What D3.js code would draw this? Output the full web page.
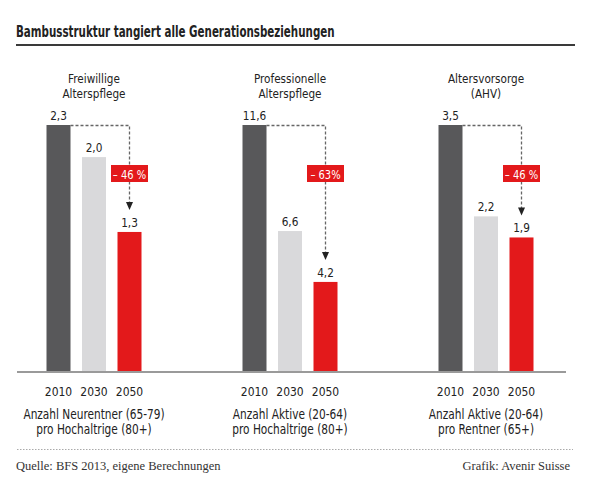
<!DOCTYPE html>
<html>
<head>
<meta charset="utf-8">
<script src="https://cdn.jsdelivr.net/npm/d3@7/dist/d3.min.js"></script>
<style>
  html, body { margin: 0; padding: 0; background: #fff; }
  svg { display: block; }
  .din { font-family: "DejaVu Sans Condensed", "DejaVu Sans", sans-serif; }
  .serif { font-family: "Liberation Serif", "DejaVu Serif", serif; }
</style>
</head>
<body>
<script>
// Daten
var years = ['2010', '2030', '2050'];
var panelTitles = [['Freiwillige', 'Alterspflege'], ['Professionelle', 'Alterspflege'], ['Altersvorsorge', '(AHV)']];
var panelNotes = [['Anzahl Neurentner (65-79)', 'pro Hochaltrige (80+)'],
                  ['Anzahl Aktive (20-64)', 'pro Hochaltrige (80+)'],
                  ['Anzahl Aktive (20-64)', 'pro Rentner (65+)']];
var freiwillige = [2.3, 2.0, 1.3];
var professionelle = [11.6, 6.6, 4.2];
var altersvorsorge = [3.5, 2.2, 1.9];
var changeLabels = ['– 46 %', '– 63%', '– 46 %'];

var title = 'Bambusstruktur tangiert alle Generationsbeziehungen';
var source = 'Quelle: BFS 2013, eigene Berechnungen';
var credit = 'Grafik: Avenir Suisse';

var series = [freiwillige, professionelle, altersvorsorge];
var barColors = ['#58585a', '#d9d9db', '#e3191b'];

var W = 600, H = 488;
var baseY = 371, topY = 125;

var svg = d3.select('body').append('svg').attr('width', W).attr('height', H);

// schmale Schrift: horizontal gestaucht
function at(x, y, sx) {
    return 'translate(' + x + ',' + y + ') scale(' + sx + ',1)';
}

// Titel
svg.append('text').attr('class', 'din')
    .attr('transform', at(16, 37, 0.74))
    .attr('font-size', 15.5).attr('font-weight', 'bold').attr('fill', '#222')
    .text(title);
svg.append('line').attr('x1', 16).attr('x2', 575).attr('y1', 45).attr('y2', 45)
    .attr('stroke', '#3a3a3a').attr('stroke-width', 2);

// Skalen
var px = d3.scalePoint().domain([0, 1, 2]).range([94, 486]);
var bx = d3.scaleBand().domain(years).range([-47.5, 47.5]).paddingInner(0.324).paddingOuter(0);
var bw = bx.bandwidth();

series.forEach(function(vals, p) {
    var cx = px(p);
    var y = d3.scaleLinear().domain([0, d3.max(vals)]).range([baseY, topY]);
    var g = svg.append('g').attr('transform', 'translate(' + cx + ',0)');

    // Panel-Titel
    g.selectAll('text.pt').data(panelTitles[p]).enter().append('text')
        .attr('class', 'din pt')
        .attr('transform', function(d, i) { return at(0, 83 + i * 15, 0.93); })
        .attr('text-anchor', 'middle').attr('font-size', 12.5).attr('fill', '#222')
        .text(function(d) { return d; });

    // Balken
    g.selectAll('rect.bar').data(vals).enter().append('rect')
        .attr('class', 'bar')
        .attr('x', function(d, i) { return bx(years[i]); })
        .attr('y', function(d) { return y(d); })
        .attr('width', bw)
        .attr('height', function(d) { return baseY - y(d); })
        .attr('fill', function(d, i) { return barColors[i]; });

    // Werte
    g.selectAll('text.val').data(vals).enter().append('text')
        .attr('class', 'din val')
        .attr('transform', function(d, i) { return at(bx(years[i]) + bw / 2, y(d) - 5, 0.9); })
        .attr('text-anchor', 'middle').attr('font-size', 13).attr('fill', '#222')
        .text(function(d) { return d3.format('.1f')(d).replace('.', ','); });

    // Pfeil gestrichelt
    var x0 = bx(years[0]) + bw;
    var xr = bx(years[2]) + bw / 2;
    var tip = y(vals[2]) - 22;
    g.append('path')
        .attr('d', 'M' + x0 + ',' + (y(vals[0]) + 0.5) + 'H' + xr + 'V' + (tip - 7))
        .attr('fill', 'none').attr('stroke', '#666').attr('stroke-width', 1.3)
        .attr('stroke-dasharray', '3,2');
    g.append('path')
        .attr('d', 'M' + (xr - 3.5) + ',' + (tip - 8) + 'L' + (xr + 3.5) + ',' + (tip - 8) + 'L' + xr + ',' + tip + 'Z')
        .attr('fill', '#222');

    // Prozent-Box
    g.append('rect').attr('x', xr - 18.5).attr('y', 165).attr('width', 37).attr('height', 17)
        .attr('fill', '#e3191b');
    g.append('text').attr('class', 'din')
        .attr('transform', at(xr, 178.5, 0.85)).attr('text-anchor', 'middle')
        .attr('font-size', 13).attr('fill', '#fff')
        .text(changeLabels[p]);

    // Jahre
    g.selectAll('text.yr').data(years).enter().append('text')
        .attr('class', 'din yr')
        .attr('transform', function(d) { return at(bx(d) + bw / 2, 396, 0.92); })
        .attr('text-anchor', 'middle')
        .attr('font-size', 13).attr('fill', '#222')
        .text(function(d) { return d; });

    // Fussnoten
    g.selectAll('text.note').data(panelNotes[p]).enter().append('text')
        .attr('class', 'din note')
        .attr('transform', function(d, i) { return at(0, 419 + i * 15, 0.87); })
        .attr('text-anchor', 'middle').attr('font-size', 13.5).attr('fill', '#222')
        .text(function(d) { return d; });
});

// Grundlinie
svg.append('line').attr('x1', 17).attr('x2', 566).attr('y1', baseY + 1).attr('y2', baseY + 1)
    .attr('stroke', '#9a9a9a').attr('stroke-width', 2);

// gepunktete Trennlinie
svg.append('line').attr('x1', 17).attr('x2', 573).attr('y1', 449.5).attr('y2', 449.5)
    .attr('stroke', '#aaa').attr('stroke-width', 1).attr('stroke-dasharray', '1.5,1.5');

svg.append('text').attr('class', 'serif')
    .attr('x', 16).attr('y', 470).attr('font-size', 12.5).attr('fill', '#333')
    .text(source);
svg.append('text').attr('class', 'serif')
    .attr('x', 570).attr('y', 470).attr('text-anchor', 'end').attr('font-size', 12.5).attr('fill', '#333')
    .text(credit);
</script>
</body>
</html>
